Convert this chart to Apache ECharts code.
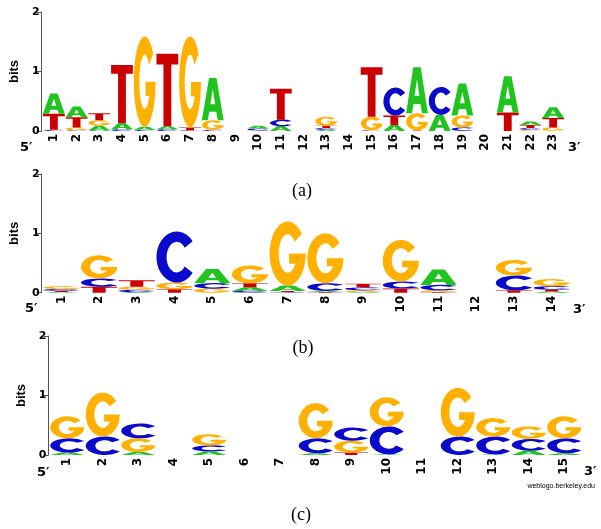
<!DOCTYPE html>
<html>
<head>
<meta charset="utf-8">
<script src="https://cdn.jsdelivr.net/npm/echarts@6/dist/echarts.min.js"></script>
<style>
html,body{margin:0;padding:0;background:#fff;}
#chart{width:601px;height:529px;}
</style>
</head>
<body>
<div id="chart"></div>
<script>
// information content (bits) of each base per position, read off the logos
// panel (a): 23 positions
var aA = [0.34,0.18,0.08,0.10,0.05,0.05,0.00,0.71,0,0.05,0.08,0,0.02,0,0.00,0.10,0.77,0.27,0.54,0,0.61,0.06,0.18];
var aC = [0.02,0.01,0.01,0.03,0.02,0.03,0.01,0.02,0,0.03,0.11,0,0.03,0,0.01,0.47,0.00,0.47,0.06,0,0.00,0.03,0.00];
var aG = [0.00,0.05,0.09,0.00,1.52,0.00,1.53,0.16,0,0.01,0.00,0,0.15,0,0.23,0.00,0.29,0.00,0.20,0,0.00,0.02,0.06];
var aT = [0.27,0.17,0.12,0.98,0.00,1.22,0.05,0.00,0,0.00,0.52,0,0.04,0,0.83,0.16,0.01,0.00,0.00,0,0.31,0.05,0.16];
// panel (b): 14 positions
var bA = [0.01,0.00,0.01,0.00,0.24,0.06,0.09,0.02,0.01,0.00,0.26,0,0.00,0.02];
var bC = [0.03,0.14,0.04,0.86,0.09,0.03,0.01,0.13,0.05,0.12,0.09,0,0.25,0.06];
var bG = [0.05,0.39,0.05,0.11,0.07,0.30,1.08,0.84,0.03,0.70,0.03,0,0.26,0.12];
var bT = [0.02,0.10,0.11,0.06,0.00,0.07,0.02,0.01,0.06,0.07,0.01,0,0.04,0.03];
// panel (c): 15 positions
var cA = [0.04,0.00,0.05,0,0.06,0,0,0.03,0.00,0.01,0,0.00,0.01,0.07,0.03];
var cC = [0.24,0.31,0.25,0,0.10,0,0,0.25,0.22,0.47,0,0.31,0.30,0.20,0.25];
var cG = [0.37,0.74,0.23,0,0.19,0,0,0.59,0.20,0.49,0,0.82,0.31,0.21,0.37];
var cT = [0.00,0.00,0.00,0,0.00,0,0,0.00,0.04,0.00,0,0.00,0.00,0.00,0.00];

var baseColors = {A:'#1fc41f', C:'#0a0acc', G:'#ffb000', T:'#cc0000'};

// letter outlines in a 100x100 box, stretched to each stack slot
var glyphs = {
  A: 'M0 100L33 0H67L100 100H73L66 80H34L27 100Z M39 62H61L50 26Z',
  C: 'M89.4 19.2A50 50 0 1 0 89.4 80.8L69.7 68.5A25 30 0 1 1 69.7 31.5Z',
  G: 'M89.4 19.2A50 50 0 1 0 100 50H54V66H71.2A25 30 0 1 1 69.7 31.5Z',
  T: 'M0 0H100V15H68V100H32V15H0Z'
};

function labels(n) {
  var out = [];
  for (var i = 1; i <= n; i++) out.push(String(i));
  return out;
}

function rows(A, C, G, T) {
  return A.map(function (v, i) { return [i, v, C[i], G[i], T[i]]; });
}

function logoItem(params, api) {
  var x = api.value(0);
  var stack = ['A', 'C', 'G', 'T'].map(function (b, k) {
    return {b: b, h: api.value(k + 1)};
  });
  stack.sort(function (p, q) { return p.h - q.h; });
  var w = api.size([1, 0])[0] * 0.96;
  var y0 = 0, children = [];
  stack.forEach(function (s) {
    if (!(s.h > 0)) return;
    var bot = api.coord([x, y0]);
    var top = api.coord([x, y0 + s.h]);
    y0 += s.h;
    children.push({
      type: 'path',
      shape: {pathData: glyphs[s.b], x: bot[0] - w / 2, y: top[1], width: w, height: bot[1] - top[1], layout: 'cover'},
      style: {fill: baseColors[s.b]}
    });
  });
  return {type: 'group', children: children};
}

var grids = [
  {left: 34.5, width: 530, top: 12, height: 119},
  {left: 38.5, width: 532, top: 174, height: 118.7},
  {left: 49.5, width: 532.5, top: 336, height: 119}
];
var counts = [aA.length, bA.length, cA.length];

var xAxes = counts.map(function (n, g) {
  return {
    gridIndex: g, type: 'category', data: labels(n),
    axisLine: {show: false}, axisTick: {show: false},
    axisLabel: {rotate: 90, interval: 0, margin: 3, fontFamily: 'DejaVu Sans', fontWeight: 'bold', fontSize: 12, color: '#000'}
  };
});
var yAxes = counts.map(function (n, g) {
  return {
    gridIndex: g, type: 'value', min: 0, max: 2, interval: 1, offset: 1,
    name: 'bits', nameLocation: 'middle', nameGap: 19, nameRotate: 90,
    nameTextStyle: {fontFamily: 'Liberation Sans', fontWeight: 'bold', fontSize: 13, color: '#000'},
    axisLine: {show: true, lineStyle: {color: '#555'}},
    axisTick: {show: true, length: 5, lineStyle: {color: '#555'}},
    axisLabel: {margin: 2, fontFamily: 'DejaVu Sans', fontWeight: 'bold', fontSize: 11, color: '#000'},
    splitLine: {show: false}
  };
});

var series = [rows(aA, aC, aG, aT), rows(bA, bC, bG, bT), rows(cA, cC, cG, cT)].map(function (d, g) {
  return {
    type: 'custom', xAxisIndex: g, yAxisIndex: g, clip: false,
    encode: {x: 0, y: [1, 2, 3, 4]},
    renderItem: logoItem, data: d
  };
});

var endFont = 'bold 13px "DejaVu Sans"';
function txt(text, x, y, font, align) {
  return {type: 'text', x: x, y: y, style: {text: text, font: font, fill: '#000', align: align || 'left', verticalAlign: 'middle'}};
}

var chart = echarts.init(document.getElementById('chart'));
chart.setOption({
  animation: false,
  grid: grids,
  xAxis: xAxes,
  yAxis: yAxes,
  series: series,
  graphic: [
    txt('5\u2032', 20, 148, endFont), txt('3\u2032', 568, 148, endFont),
    txt('5\u2032', 25, 309, endFont), txt('3\u2032', 573, 310, endFont),
    txt('5\u2032', 37, 473, endFont), txt('3\u2032', 584, 472, endFont),
    txt('(a)', 302, 191, '18px "Liberation Serif"', 'center'),
    txt('(b)', 303, 348, '18px "Liberation Serif"', 'center'),
    txt('(c)', 301, 515, '18px "Liberation Serif"', 'center'),
    txt('weblogo.berkeley.edu', 595, 486, '7px "Liberation Sans"', 'right')
  ]
});
</script>
</body>
</html>
